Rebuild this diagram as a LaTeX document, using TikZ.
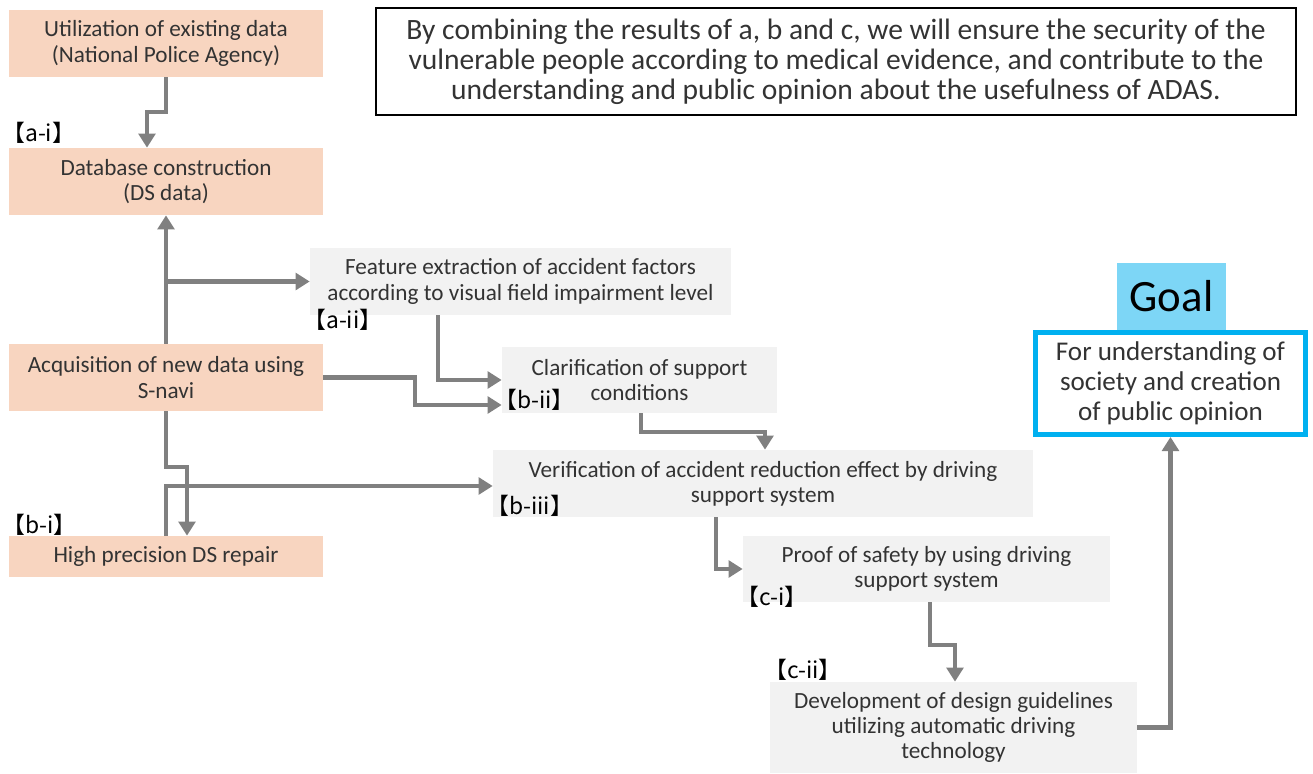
\documentclass[tikz,border=0pt]{standalone}
\usepackage{fontspec}
\setmainfont{Carlito}
\newfontfamily\cjk{Noto Sans CJK JP}
\usetikzlibrary{arrows.meta}
\definecolor{peach}{HTML}{F8D5C0}
\definecolor{lgrey}{HTML}{F2F2F2}
\definecolor{flowgrey}{HTML}{808080}
\definecolor{goalblue}{HTML}{00B0F0}
\definecolor{goalhead}{HTML}{7DD6F6}

\begin{document}
\begin{tikzpicture}[x=0.02cm,y=-0.02cm,
  box/.style={rectangle, inner sep=0pt, align=center, text=black!80,
    font=\fontsize{13.2}{14.4}\selectfont},
  pbox/.style={box, fill=peach, minimum width=6.28cm},
  gbox/.style={box, fill=lgrey},
  tag/.style={anchor=west, inner sep=0pt, text=black,
    font=\cjk\fontsize{13}{14}\selectfont},
  flow/.style={draw=flowgrey, line width=2.8pt,
    -{Triangle[length=8pt,width=9.5pt]}}]
\useasboundingbox (0,0) rectangle (1313,774);

% left column
\node[pbox, minimum height=1.34cm] (a) at (166,43.5)
{Utilization of existing data\\(National Police Agency)};
\node[pbox, minimum height=1.34cm] (b) at (166,181.5)
{Database construction\\(DS data)};
\node[pbox, minimum height=1.34cm] (c) at (166,377.5)
{Acquisition of new data using\\S-navi};
\node[pbox, minimum height=0.82cm] (d) at (166,556.5)
{High precision DS repair};

% steps
\node[gbox, minimum width=8.42cm, minimum height=1.34cm] (e) at (520.5,281.5)
{Feature extraction of accident factors\\according to visual field impairment level};
\node[gbox, minimum width=5.5cm, minimum height=1.32cm] (f) at (639.5,380)
{Clarification of support\\conditions};
\node[gbox, minimum width=10.8cm, minimum height=1.34cm] (g) at (763,483.5)
{Verification of accident reduction effect by driving\\support system};
\node[gbox, minimum width=7.34cm, minimum height=1.32cm] (h) at (926.5,569)
{Proof of safety by using driving\\support system};
\node[gbox, minimum width=7.34cm, minimum height=1.82cm] (i) at (953.5,727.5)
{Development of design guidelines\\utilizing automatic driving\\technology};

% goal
\node[rectangle, fill=goalhead, minimum width=2.18cm, minimum height=1.34cm,
  font=\fontsize{25.5}{28}\selectfont] (j) at (1171.5,296.5) {Goal};
\node[rectangle, draw=goalblue, line width=2.8pt, fill=white, align=center,
  minimum width=5.4cm, minimum height=2.04cm, inner sep=0pt, text=black!80,
  font=\fontsize{15.4}{17}\selectfont] (k) at (1170.5,383.5)
{For understanding of\\society and creation\\of public opinion};

\node[rectangle, draw, line width=0.8pt, align=center, inner sep=0pt,
  minimum width=18.4cm, minimum height=2.14cm, text=black!80,
  font=\fontsize{16.8}{17}\selectfont] (l) at (836,61.5)
{By combining the results of a, b and c, we will ensure the security of the\\
vulnerable people according to medical evidence, and contribute to the\\
understanding and public opinion about the usefulness of ADAS.};

% bends
\coordinate (u1) at (147,112);
\coordinate (u2) at (415,405);
\coordinate (u3) at (438,379);
\coordinate (u4) at (187,467);
\coordinate (u5) at (166,486);
\coordinate (u6) at (641,432);
\coordinate (u7) at (765,432);
\coordinate (u8) at (716,570);
\coordinate (u9) at (930,645);
\coordinate (u10) at (955,645);

\path[flow] (a.south) |- (u1) -- (b.north -| u1);
\path[flow] (c.north) -- (b.south);
\path[flow] (c.north |- e.west) -- (e.west);
\path[flow] (c.east) -| (u2) -- (f.west |- u2);
\path[flow] (e.south -| u3) |- (f.west);
\path[flow] (c.south) |- (u4) -- (d.north -| u4);
\path[flow] (d.north) |- (g.west |- u5);
\path[flow] (f.south -| u6) -- (u6) -- (u7) -- (g.north -| u7);
\path[flow] (g.south -| u8) |- (h.west);
\path[flow] (h.south -| u9) -- (u9) -- (u10) -- (i.north -| u10);
\path[flow] (i.east) -| (k.south);

% tags
\node[tag] (m) at (2,133) {【a-i】};
\node[tag] (n) at (303,320) {【a-ii】};
\node[tag] (o) at (494,400) {【b-ii】};
\node[tag] (p) at (2,525) {【b-i】};
\node[tag] (q) at (486,506) {【b-iii】};
\node[tag] (r) at (736,597) {【c-i】};
\node[tag] (s) at (764,670) {【c-ii】};
\end{tikzpicture}
\end{document}
